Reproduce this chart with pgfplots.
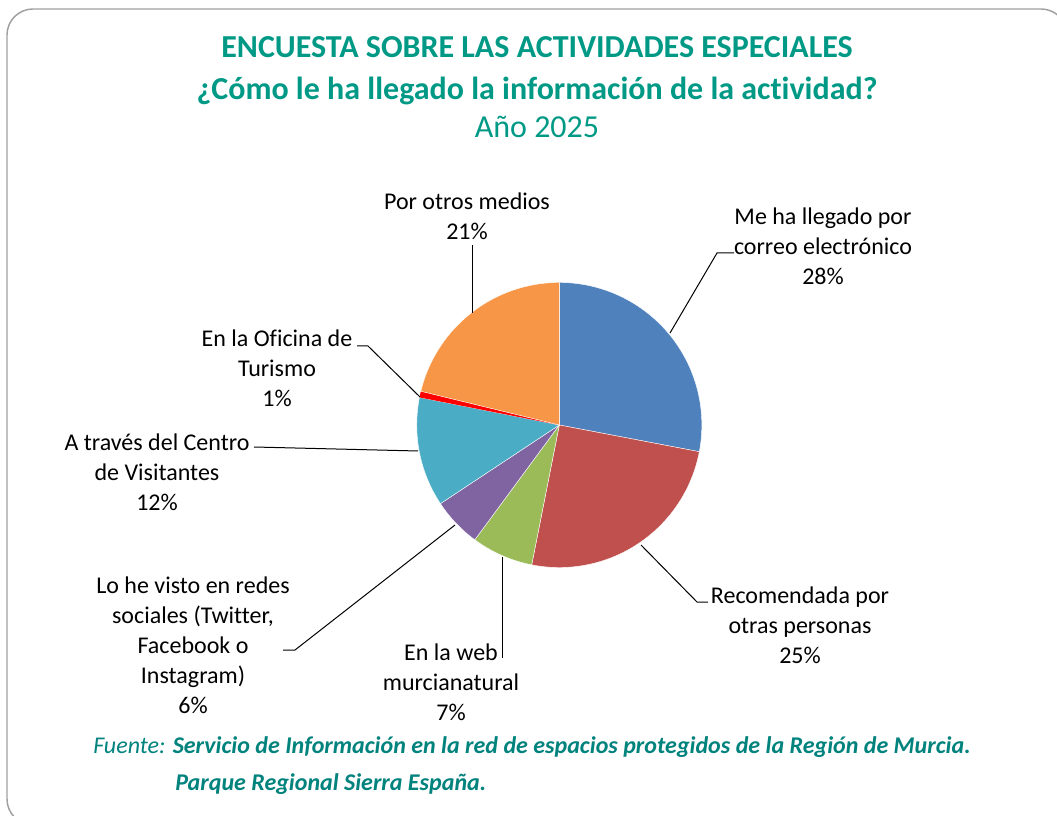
\documentclass[border=0pt]{standalone}
\usepackage{pgfplots}
\usepackage{pgfplotstable}
\pgfplotsset{compat=1.18}
\usepackage{fontspec}
\setmainfont{Carlito}[Ligatures=CommonOff]
\definecolor{ttl}{RGB}{0,153,133}
\definecolor{src}{RGB}{0,130,125}
\definecolor{cBlue}{HTML}{4F81BD}
\definecolor{cRed}{HTML}{C0504D}
\definecolor{cGreen}{HTML}{9BBB59}
\definecolor{cPurple}{HTML}{8064A2}
\definecolor{cCyan}{HTML}{4BACC6}
\definecolor{cBright}{HTML}{FF0000}
\definecolor{cOrange}{HTML}{F79646}
\definecolor{frame}{RGB}{160,160,160}
\tikzset{lbl/.style={font=\fontsize{18}{22.5}\selectfont, align=center, text=black}}

% share of each answer, percent (clockwise from 12 o'clock)
\pgfplotstableread{
slice value
0 28.0
1 25.1
2 7.0
3 5.6
4 12.4
5 0.7
6 21.2
}\piedata

\begin{document}
\begin{tikzpicture}
\pgfplotstablegetelem{0}{value}\of\piedata \let\vA\pgfplotsretval
\pgfplotstablegetelem{1}{value}\of\piedata \let\vB\pgfplotsretval
\pgfplotstablegetelem{2}{value}\of\piedata \let\vC\pgfplotsretval
\pgfplotstablegetelem{3}{value}\of\piedata \let\vD\pgfplotsretval
\pgfplotstablegetelem{4}{value}\of\piedata \let\vE\pgfplotsretval
\pgfplotstablegetelem{5}{value}\of\piedata \let\vF\pgfplotsretval
\pgfplotstablegetelem{6}{value}\of\piedata \let\vG\pgfplotsretval
\pgfmathsetmacro\bA{90}
\pgfmathsetmacro\bB{\bA-3.6*\vA}
\pgfmathsetmacro\bC{\bB-3.6*\vB}
\pgfmathsetmacro\bD{\bC-3.6*\vC}
\pgfmathsetmacro\bE{\bD-3.6*\vD}
\pgfmathsetmacro\bF{\bE-3.6*\vE}
\pgfmathsetmacro\bG{\bF-3.6*\vF}
\pgfmathsetmacro\bH{\bG-3.6*\vG}
\def\pieR{106.9pt}
\def\cx{559.3}\def\cy{425}
\begin{axis}[
  scale only axis, width=792.75pt, height=612pt,
  xmin=0, xmax=1057, ymin=0, ymax=816, y dir=reverse,
  hide axis, clip=false,
]
\fill[cBlue,draw=white,line width=0.3pt] (axis cs:\cx,\cy) -- ++(\bA:\pieR) arc[start angle=\bA,end angle=\bB,radius=\pieR] -- cycle;
\fill[cRed,draw=white,line width=0.3pt] (axis cs:\cx,\cy) -- ++(\bB:\pieR) arc[start angle=\bB,end angle=\bC,radius=\pieR] -- cycle;
\fill[cGreen,draw=white,line width=0.3pt] (axis cs:\cx,\cy) -- ++(\bC:\pieR) arc[start angle=\bC,end angle=\bD,radius=\pieR] -- cycle;
\fill[cPurple,draw=white,line width=0.3pt] (axis cs:\cx,\cy) -- ++(\bD:\pieR) arc[start angle=\bD,end angle=\bE,radius=\pieR] -- cycle;
\fill[cCyan,draw=white,line width=0.3pt] (axis cs:\cx,\cy) -- ++(\bE:\pieR) arc[start angle=\bE,end angle=\bF,radius=\pieR] -- cycle;
\fill[cBright] (axis cs:\cx,\cy) -- ++(\bF:\pieR) arc[start angle=\bF,end angle=\bG,radius=\pieR] -- cycle;
\fill[cOrange,draw=white,line width=0.3pt] (axis cs:\cx,\cy) -- ++(\bG:\pieR) arc[start angle=\bG,end angle=\bH,radius=\pieR] -- cycle;

% leader lines
\draw[black,line width=0.75pt] (axis cs:670,333) -- (axis cs:717,253) -- (axis cs:734,253);
\draw[black,line width=0.75pt] (axis cs:641,545) -- (axis cs:697,602) -- (axis cs:708,602);
\draw[black,line width=0.75pt] (axis cs:502,557) -- (axis cs:502,658);
\draw[black,line width=0.75pt] (axis cs:455,525) -- (axis cs:295,650) -- (axis cs:283,650);
\draw[black,line width=0.75pt] (axis cs:418,451) -- (axis cs:254,447);
\draw[black,line width=0.75pt] (axis cs:420,397) -- (axis cs:368,346) -- (axis cs:357,346);
\draw[black,line width=0.75pt] (axis cs:472,313) -- (axis cs:472,245);

% labels
\node[lbl] at (axis cs:823,246) {Me ha llegado por\\correo electrónico\\28\%};
\node[lbl] at (axis cs:800,625) {Recomendada por\\otras personas\\25\%};
\node[lbl] at (axis cs:451,682) {En la web\\murcianatural\\7\%};
\node[lbl] at (axis cs:193,645) {Lo he visto en redes\\sociales (Twitter,\\Facebook o\\Instagram)\\6\%};
\node[lbl] at (axis cs:157,472) {A través del Centro\\de Visitantes\\12\%};
\node[lbl] at (axis cs:277,368) {En la Oficina de\\Turismo\\1\%};
\node[lbl] at (axis cs:467,216) {Por otros medios\\21\%};

% titles
\node[anchor=base,text=ttl,font=\fontsize{24}{30}\selectfont\bfseries] at (axis cs:537,58) {ENCUESTA SOBRE LAS ACTIVIDADES ESPECIALES};
\node[anchor=base,text=ttl,font=\fontsize{24}{30}\selectfont\bfseries] at (axis cs:537,100) {¿Cómo le ha llegado la información de la actividad?};
\node[anchor=base,text=ttl,font=\fontsize{24}{30}\selectfont] at (axis cs:537,138) {Año 2025};

% source
\node[anchor=base west,inner sep=0pt,text=src,font=\fontsize{18}{22}\selectfont\itshape] at (axis cs:93,753) {Fuente: \bfseries Servicio de Información en la red de espacios protegidos de la Región de Murcia.};
\node[anchor=base west,inner sep=0pt,text=src,font=\fontsize{18}{22}\selectfont\itshape\bfseries] at (axis cs:175,790) {Parque Regional Sierra España.};
\end{axis}
\draw[frame,line width=1.1pt,rounded corners=19.5pt] (5.25pt,605.25pt) rectangle (800.25pt,-6.75pt);
\pgfresetboundingbox
\path (0,0) rectangle (792.75pt,612pt);
\end{tikzpicture}
\end{document}
